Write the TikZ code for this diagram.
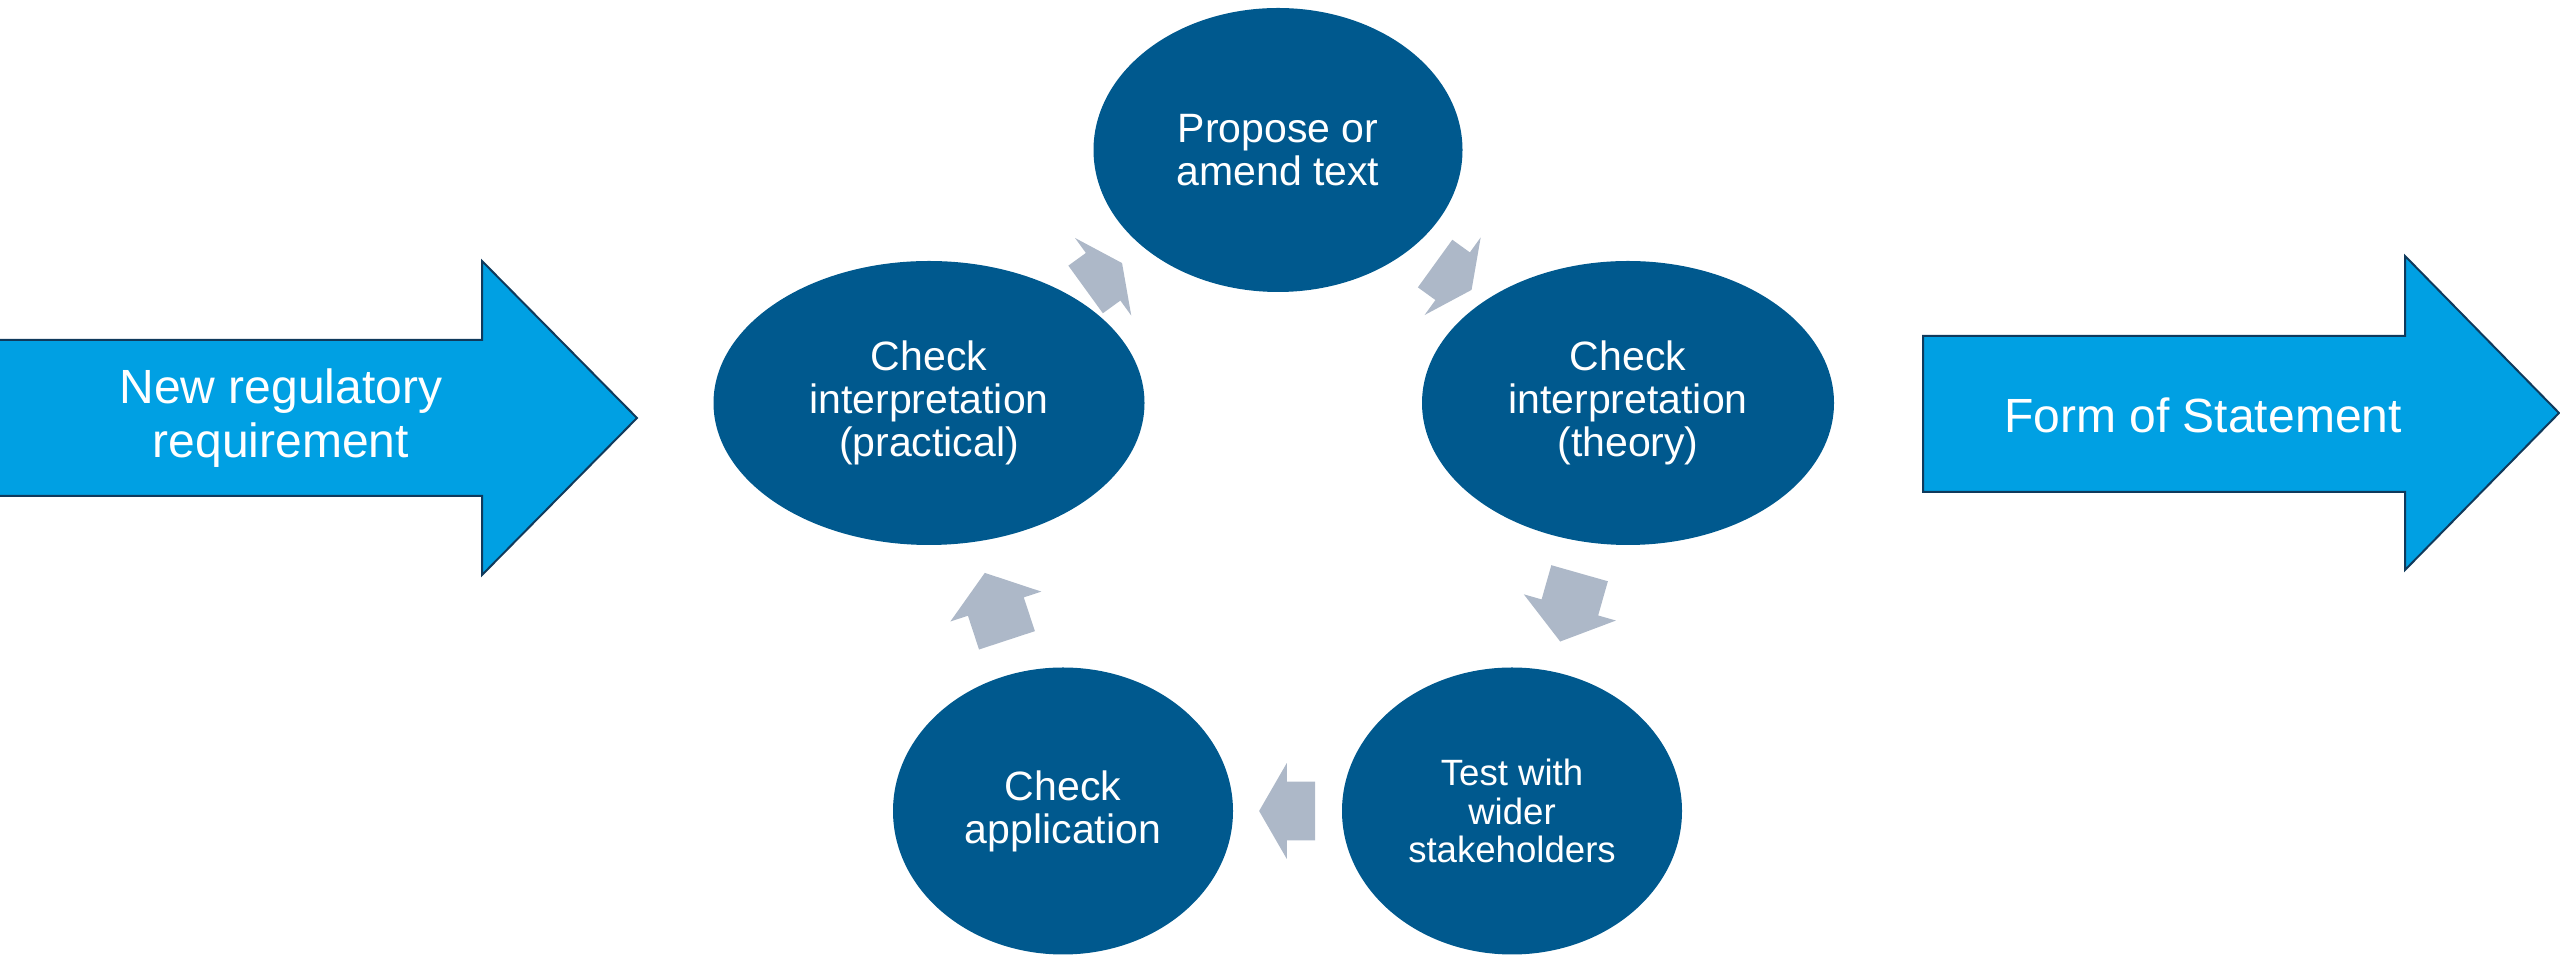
\documentclass[tikz,border=0pt]{standalone}
\usepackage{fontspec}
\setmainfont{Liberation Sans}
\usetikzlibrary{calc, shapes.geometric, shapes.arrows}
\definecolor{stageblue}{RGB}{0,89,142}
\definecolor{flowblue}{RGB}{0,160,227}
\definecolor{flowline}{RGB}{16,58,92}
\definecolor{loopgray}{RGB}{173,184,200}
\tikzset{
    stage/.style={ellipse, fill=stageblue, text=white, inner sep=0pt, align=center, font=\fontsize{20.5}{21.5}\selectfont}, % ellipses of the cycle
    flow arrow/.style={fill=flowblue, draw=flowline, line width=1pt, line join=miter}, % input and output arrows
    flow label/.style={text=white, align=center, font=\fontsize{24}{27}\selectfont},
    loop arrow/.style={single arrow, fill=loopgray, inner xsep=0pt, inner ysep=14.5pt, single arrow head extend=9.25pt, sloped, allow upside down, anchor=tail}
}

\begin{document}
\begin{tikzpicture}[x=0.5pt, y=0.5pt]
    \useasboundingbox (0,0) rectangle (2560,957);

    % input and output
    \draw[flow arrow] (-2,461) -- (482,461) -- (482,382) -- (637,539) -- (482,696) -- (482,617) -- (-2,617) -- cycle;
    \draw[flow arrow] (1923,465) -- (2405,465) -- (2405,387) -- (2559,544) -- (2405,701) -- (2405,621) -- (1923,621) -- cycle;
    \node[flow label] (newreq) at (281,539) {New regulatory\\requirement};
    \node[flow label] (form) at (2203,542) {Form of Statement};

    % cycle
    \node[stage, minimum width=184.5pt, minimum height=142pt] (prop) at (1278,807) {Propose or\\amend text};
    \node[stage, minimum width=206pt, minimum height=142pt] (theo) at (1628,554) {Check\\interpretation\\(theory)};
    \node[stage, minimum width=170pt, minimum height=143.5pt, font=\fontsize{18.3}{19.2}\selectfont] (test) at (1512,146) {Test with\\wider\\stakeholders};
    \node[stage, minimum width=170pt, minimum height=143.5pt] (appl) at (1063,146) {Check\\application};
    \node[stage, minimum width=215.5pt, minimum height=142pt] (prac) at (929,554) {Check\\interpretation\\(practical)};

    % arrows halfway between the centres, tail at half a length before the middle
    \foreach \a/\b/\len/\tip in {prac/prop/22.5/128, prop/theo/22.5/128, theo/test/35.5/107, test/appl/28/120, appl/prac/35.5/107} {
        \coordinate (mid) at ($(\a.center)!0.5!(\b.center)$);
        \path ($(mid)!{\len pt/2}!(\a.center)$) -- node[pos=0, loop arrow, minimum height=\len pt, single arrow tip angle=\tip] {} (\b.center);
    }
\end{tikzpicture}
\end{document}
